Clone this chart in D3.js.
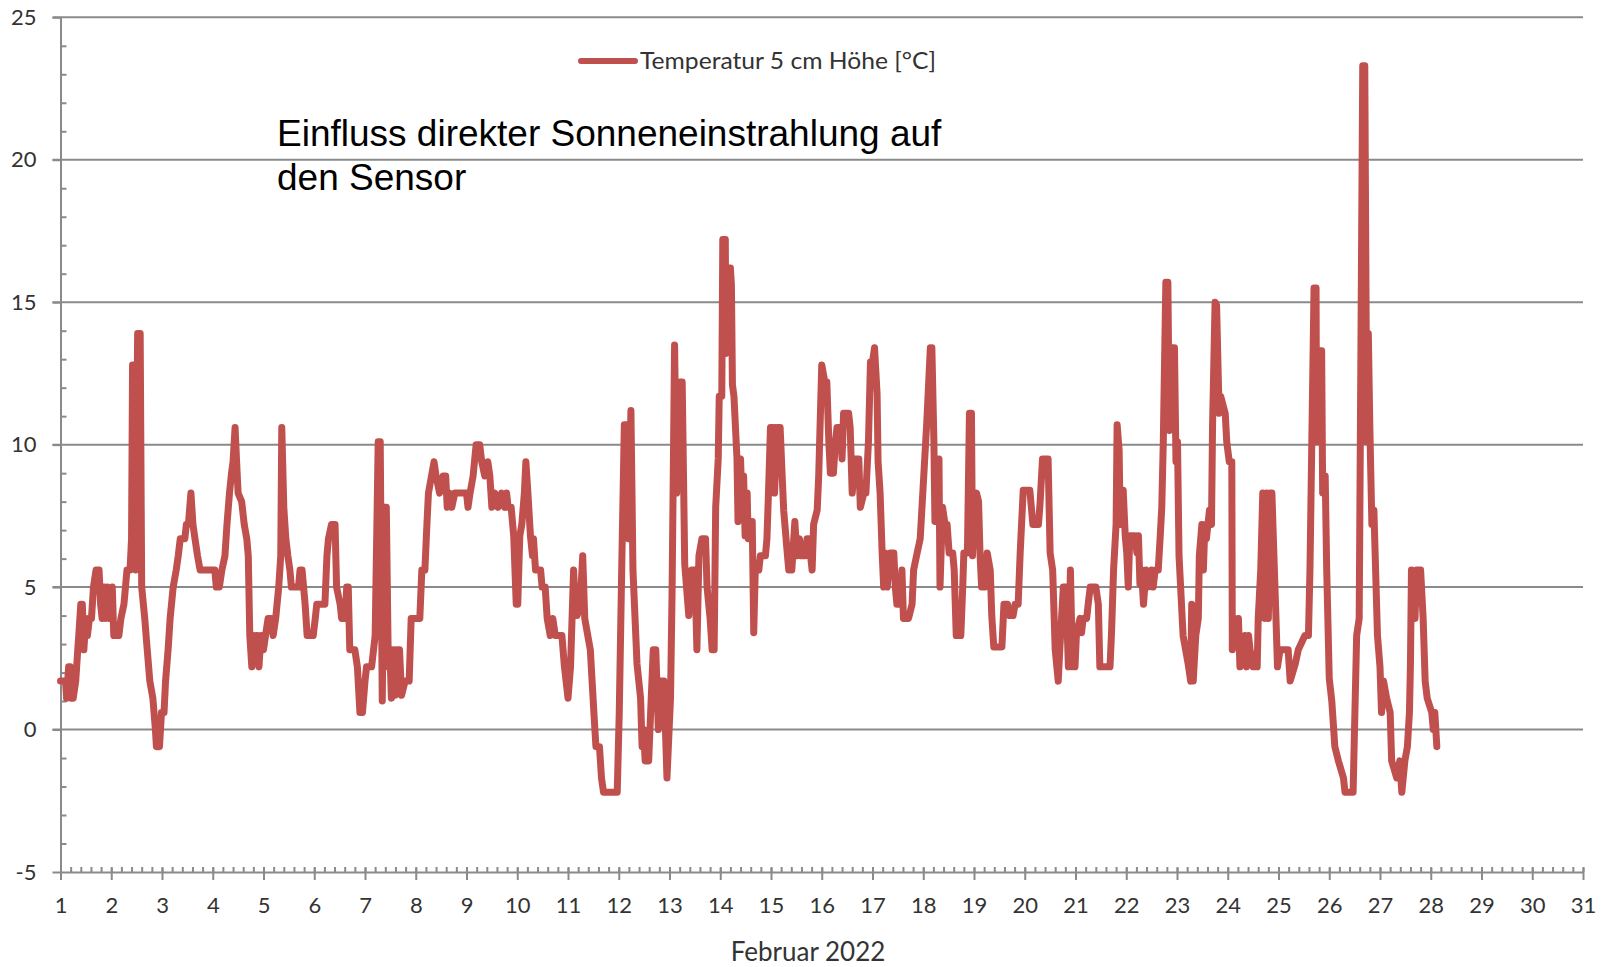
<!DOCTYPE html>
<html>
<head>
<meta charset="utf-8">
<script src="https://cdn.jsdelivr.net/npm/d3@7"></script>
<style>
  html, body { margin: 0; padding: 0; background: #ffffff; }
  svg { display: block; }
</style>
</head>
<body>
<svg id="chart" width="1612" height="967"></svg>
<script>
// ---- data (day of February as decimal, temperature in °C) ----
const readings = [
  [1.00,1.7],[1.10,1.7],[1.12,1.1],[1.16,2.2],[1.19,2.2],[1.21,1.1],[1.25,1.1],[1.30,1.7],[1.34,2.8],[1.36,3.3],
  [1.40,4.4],[1.43,4.4],[1.46,2.8],[1.50,3.9],[1.53,3.3],[1.57,3.9],[1.61,3.9],[1.65,5.0],[1.70,5.6],[1.76,5.6],
  [1.79,4.4],[1.82,3.9],[1.86,5.0],[1.89,3.9],[1.92,5.0],[1.95,3.9],[1.98,3.9],[2.02,5.0],[2.05,3.3],[2.15,3.3],
  [2.19,3.9],[2.25,4.4],[2.31,5.6],[2.37,5.6],[2.40,6.7],[2.42,12.8],[2.46,12.8],[2.48,5.6],[2.52,13.9],[2.57,13.9],
  [2.60,5.0],[2.66,3.9],[2.70,3.0],[2.76,1.7],[2.82,1.1],[2.87,0.0],[2.89,-0.6],[2.95,-0.6],[2.99,0.6],[3.04,0.6],
  [3.07,1.7],[3.12,2.8],[3.16,3.9],[3.22,5.0],[3.28,5.6],[3.32,6.1],[3.36,6.7],[3.45,6.7],[3.48,7.2],[3.52,7.2],
  [3.57,8.3],[3.61,7.2],[3.65,6.7],[3.70,6.1],[3.75,5.6],[4.04,5.6],[4.07,5.0],[4.13,5.0],[4.18,5.6],[4.24,6.1],
  [4.28,7.2],[4.33,8.3],[4.37,9.0],[4.40,9.4],[4.44,10.6],[4.47,9.4],[4.50,8.3],[4.57,8.0],[4.62,7.2],[4.67,6.7],
  [4.70,6.1],[4.73,3.3],[4.77,2.2],[4.80,3.3],[4.84,2.8],[4.87,3.3],[4.91,2.2],[4.95,3.3],[5.00,2.8],[5.04,3.3],
  [5.09,3.9],[5.15,3.9],[5.19,3.3],[5.24,3.9],[5.30,5.0],[5.34,6.1],[5.36,10.6],[5.40,7.8],[5.44,6.7],[5.48,6.1],
  [5.52,5.6],[5.55,5.0],[5.69,5.0],[5.72,5.6],[5.76,5.6],[5.79,5.0],[5.82,4.4],[5.86,3.3],[5.98,3.3],[6.02,3.9],
  [6.05,4.4],[6.21,4.4],[6.25,6.1],[6.28,6.7],[6.34,7.2],[6.41,7.2],[6.44,5.0],[6.51,4.4],[6.54,3.9],[6.61,3.9],
  [6.64,5.0],[6.67,5.0],[6.70,2.8],[6.80,2.8],[6.85,2.2],[6.90,0.6],[6.95,0.6],[7.00,1.7],[7.03,2.2],[7.13,2.2],
  [7.20,3.3],[7.26,10.1],[7.30,10.1],[7.34,1.0],[7.38,7.8],[7.42,7.8],[7.46,2.2],[7.49,2.8],[7.52,1.1],[7.56,2.8],
  [7.59,1.2],[7.63,2.8],[7.68,2.8],[7.72,1.2],[7.79,1.7],[7.87,1.7],[7.91,3.9],[8.08,3.9],[8.12,5.6],[8.18,5.6],
  [8.22,7.2],[8.25,8.3],[8.31,8.9],[8.36,9.4],[8.40,8.9],[8.47,8.3],[8.54,8.9],[8.59,8.9],[8.62,7.8],[8.67,8.3],
  [8.71,7.8],[8.77,8.3],[9.00,8.3],[9.03,7.8],[9.07,8.3],[9.13,8.9],[9.19,10.0],[9.26,10.0],[9.30,9.4],[9.36,8.9],
  [9.42,9.4],[9.46,8.9],[9.50,7.8],[9.56,8.3],[9.62,7.8],[9.69,8.3],[9.75,7.8],[9.79,8.3],[9.82,7.8],[9.88,7.8],
  [9.93,6.8],[9.98,4.4],[10.01,4.4],[10.05,6.8],[10.09,7.2],[10.14,8.3],[10.17,9.4],[10.21,8.3],[10.26,6.8],[10.30,6.1],
  [10.32,6.7],[10.36,5.6],[10.46,5.6],[10.49,5.0],[10.55,5.0],[10.59,3.9],[10.65,3.3],[10.70,3.9],[10.75,3.3],[10.88,3.3],
  [10.93,2.2],[11.00,1.1],[11.05,2.2],[11.11,5.6],[11.15,4.0],[11.18,4.0],[11.24,4.4],[11.29,6.1],[11.33,3.9],[11.39,3.3],
  [11.44,2.8],[11.51,0.6],[11.55,-0.6],[11.62,-0.6],[11.66,-1.7],[11.70,-2.2],[11.97,-2.2],[12.01,0.6],[12.06,5.8],[12.11,10.7],
  [12.16,10.7],[12.19,6.7],[12.24,11.2],[12.28,5.6],[12.36,2.3],[12.43,1.1],[12.46,-0.6],[12.49,0.0],[12.52,-1.1],[12.59,-1.1],
  [12.64,1.1],[12.68,2.8],[12.73,2.8],[12.78,0.0],[12.82,1.7],[12.89,1.7],[12.92,0.0],[12.95,-1.7],[13.02,1.1],[13.05,4.7],
  [13.10,13.5],[13.14,8.3],[13.18,10.3],[13.21,12.2],[13.25,12.2],[13.30,5.8],[13.38,4.0],[13.44,5.6],[13.50,5.6],[13.54,2.8],
  [13.58,6.1],[13.64,6.7],[13.71,6.7],[13.74,5.0],[13.80,3.9],[13.84,2.8],[13.88,2.8],[13.91,7.8],[13.96,9.5],[13.98,11.7],
  [14.03,11.7],[14.05,17.2],[14.10,17.2],[14.11,13.2],[14.15,16.2],[14.20,16.2],[14.22,15.6],[14.24,12.1],[14.27,11.7],[14.30,10.6],
  [14.33,9.5],[14.35,7.3],[14.40,9.5],[14.43,7.8],[14.46,8.9],[14.49,6.8],[14.53,8.3],[14.55,6.7],[14.59,7.3],[14.63,7.3],
  [14.66,3.4],[14.69,5.6],[14.76,5.6],[14.79,6.1],[14.89,6.1],[14.92,6.7],[14.95,8.3],[14.99,10.6],[15.05,10.6],[15.07,8.3],
  [15.12,10.6],[15.18,10.6],[15.22,8.9],[15.25,7.7],[15.32,6.2],[15.35,5.6],[15.41,5.6],[15.47,7.3],[15.51,6.1],[15.56,6.7],
  [15.60,6.1],[15.68,6.1],[15.71,6.7],[15.74,6.7],[15.78,6.1],[15.81,5.6],[15.84,7.2],[15.91,7.7],[15.94,8.9],[16.00,12.8],
  [16.06,12.2],[16.10,12.2],[16.14,10.1],[16.17,9.0],[16.23,9.0],[16.27,10.1],[16.30,10.6],[16.37,10.6],[16.40,9.5],[16.43,11.1],
  [16.53,11.1],[16.56,10.6],[16.60,8.3],[16.66,9.5],[16.73,9.5],[16.76,7.8],[16.83,8.3],[16.87,8.3],[16.92,10.1],[16.96,12.9],
  [17.00,12.9],[17.04,13.4],[17.09,11.8],[17.11,9.4],[17.15,8.3],[17.19,6.2],[17.22,5.0],[17.25,6.2],[17.29,5.0],[17.35,6.2],
  [17.42,6.2],[17.45,5.0],[17.48,4.4],[17.55,4.4],[17.58,5.6],[17.61,3.9],[17.71,3.9],[17.78,4.4],[17.81,5.6],[17.88,6.2],
  [17.94,6.7],[18.01,8.9],[18.07,10.8],[18.14,13.4],[18.17,13.4],[18.21,10.1],[18.23,7.3],[18.29,7.3],[18.31,9.5],[18.33,5.0],
  [18.38,7.8],[18.43,7.2],[18.47,7.2],[18.51,6.2],[18.58,6.2],[18.61,5.6],[18.65,3.3],[18.74,3.3],[18.78,5.1],[18.80,6.2],
  [18.87,6.2],[18.91,11.1],[18.95,11.1],[18.97,6.1],[19.02,8.0],[19.05,8.3],[19.09,8.0],[19.12,6.1],[19.15,5.0],[19.22,5.0],
  [19.26,6.2],[19.32,5.6],[19.35,4.0],[19.39,2.9],[19.55,2.9],[19.59,4.4],[19.66,4.4],[19.70,4.0],[19.77,4.0],[19.81,4.4],
  [19.87,4.4],[19.91,6.2],[19.97,8.4],[20.10,8.4],[20.16,7.2],[20.27,7.2],[20.30,7.9],[20.35,9.5],[20.46,9.5],[20.50,6.2],
  [20.55,5.6],[20.60,2.8],[20.66,1.7],[20.69,2.8],[20.76,5.0],[20.81,5.0],[20.86,2.2],[20.90,5.6],[20.94,2.2],[20.99,2.2],
  [21.02,3.4],[21.09,3.9],[21.12,3.4],[21.15,3.9],[21.22,3.9],[21.25,4.4],[21.29,5.0],[21.40,5.0],[21.45,4.4],[21.48,2.2],
  [21.68,2.2],[21.71,3.4],[21.75,5.6],[21.80,7.2],[21.82,10.7],[21.86,9.8],[21.88,7.2],[21.91,7.2],[21.94,8.4],[21.98,6.8],
  [22.01,6.2],[22.04,5.0],[22.07,6.8],[22.17,6.8],[22.21,6.2],[22.24,6.8],[22.27,5.1],[22.30,5.6],[22.34,4.4],[22.39,5.6],
  [22.43,5.0],[22.50,5.6],[22.53,5.0],[22.57,5.6],[22.63,5.6],[22.67,6.8],[22.70,7.8],[22.73,10.1],[22.78,15.7],[22.82,15.7],
  [22.85,10.5],[22.88,13.4],[22.95,13.4],[22.98,9.4],[23.01,10.1],[23.04,6.1],[23.12,3.3],[23.22,2.3],[23.27,1.7],[23.29,4.4],
  [23.32,1.7],[23.37,3.3],[23.42,3.9],[23.44,6.1],[23.49,7.2],[23.52,5.6],[23.55,7.2],[23.58,6.7],[23.64,7.7],[23.68,7.2],
  [23.70,10.6],[23.75,15.0],[23.78,14.9],[23.83,11.1],[23.86,11.7],[23.95,11.1],[23.98,10.1],[24.03,9.4],[24.08,9.4],[24.09,2.8],
  [24.14,3.9],[24.18,3.3],[24.21,3.9],[24.24,2.2],[24.34,3.3],[24.37,2.2],[24.41,3.3],[24.44,2.8],[24.50,2.2],[24.58,2.2],
  [24.60,3.9],[24.65,5.6],[24.69,8.3],[24.73,3.9],[24.77,8.3],[24.80,3.9],[24.84,8.3],[24.87,8.3],[24.91,6.1],[24.95,3.9],
  [24.98,2.2],[25.03,2.8],[25.19,2.8],[25.23,1.7],[25.33,2.3],[25.39,2.8],[25.52,3.3],[25.59,3.3],[25.62,5.6],[25.70,15.5],
  [25.74,15.5],[25.75,10.1],[25.80,13.3],[25.85,13.3],[25.87,8.3],[25.92,8.9],[25.95,5.6],[26.00,1.8],[26.05,1.0],[26.11,-0.6],
  [26.18,-1.1],[26.28,-1.7],[26.31,-2.2],[26.47,-2.2],[26.54,3.3],[26.59,3.9],[26.66,23.3],[26.70,23.3],[26.74,10.1],[26.77,13.9],
  [26.80,10.6],[26.84,7.2],[26.88,7.7],[26.95,3.3],[27.00,2.2],[27.03,0.6],[27.07,1.7],[27.13,1.1],[27.20,0.6],[27.23,-1.1],
  [27.33,-1.7],[27.39,-1.1],[27.43,-2.2],[27.49,-1.1],[27.54,-0.6],[27.58,0.6],[27.60,2.3],[27.62,5.6],[27.69,3.9],[27.72,5.6],
  [27.80,5.6],[27.85,3.9],[27.89,1.7],[27.93,1.1],[28.02,0.6],[28.05,0.0],[28.08,0.6],[28.12,-0.6]
];
const yTicks = [-5, 0, 5, 10, 15, 20, 25];
const yMinorTicks = d3.range(-5, 26, 1).filter(v => v % 5 !== 0);
const xTicks = d3.range(1, 32, 1);
const xMinorTicks = d3.range(1, 31.001, 0.2);
const seriesName = "Temperatur 5 cm Höhe [°C]";
const xTitle = "Februar 2022";
const noteLines = ["Einfluss direkter Sonneneinstrahlung auf", "den Sensor"];

// ---- layout ----
const svg = d3.select("#chart");
const plotLeft = 60.5, plotRight = 1583, plotTop = 17.3, plotBottom = 872;
const x = d3.scaleLinear().domain([1, 31]).range([plotLeft, plotRight]);
const y = d3.scaleLinear().domain([-5, 25]).range([plotBottom, plotTop]);
const gridColor = "#8a8a8a";
const textColor = "#333333";
const labelFont = "Lato, 'Open Sans', sans-serif";
const plainFormat = d => String(d);

// gridlines
svg.append("g").selectAll("line").data(yTicks.filter(v => v !== -5)).join("line")
  .attr("x1", plotLeft - 8).attr("x2", plotRight)
  .attr("y1", d => y(d)).attr("y2", d => y(d))
  .attr("stroke", gridColor).attr("stroke-width", 2);

// y axis (major ticks outside with labels)
const yAxis = svg.append("g").attr("transform", `translate(${plotLeft},0)`)
  .call(d3.axisLeft(y).tickValues(yTicks).tickSize(8).tickSizeOuter(0).tickPadding(16).tickFormat(plainFormat));
// y minor ticks inside
const yMinor = svg.append("g").attr("transform", `translate(${plotLeft},0)`)
  .call(d3.axisRight(y).tickValues(yMinorTicks).tickSize(6).tickFormat(""));
yMinor.select(".domain").remove();

// x axis
const xAxis = svg.append("g").attr("transform", `translate(0,${plotBottom})`)
  .call(d3.axisBottom(x).tickValues(xTicks).tickSize(8).tickSizeOuter(0).tickPadding(17).tickFormat(plainFormat));
const xMinor = svg.append("g").attr("transform", `translate(0,${plotBottom})`)
  .call(d3.axisTop(x).tickValues(xMinorTicks).tickSize(5).tickFormat(""));
xMinor.select(".domain").remove();

[yAxis, yMinor, xAxis, xMinor].forEach(g => {
  g.selectAll("path.domain").attr("stroke", gridColor).attr("stroke-width", 2);
  g.selectAll(".tick line").attr("stroke", gridColor).attr("stroke-width", 2);
  g.selectAll(".tick text").attr("fill", textColor).style("font-family", labelFont).style("font-size", "22px");
});
xAxis.selectAll(".tick line").attr("y1", -4);

// series line
const line = d3.line().x(d => x(d[0])).y(d => y(d[1]));
svg.append("path").datum(readings)
  .attr("d", line)
  .attr("fill", "none")
  .attr("stroke", "#C0504D")
  .attr("stroke-width", 7)
  .attr("stroke-linejoin", "round")
  .attr("stroke-linecap", "round");

// legend
const lg = svg.append("g");
lg.append("line").attr("x1", 581).attr("x2", 635).attr("y1", 61).attr("y2", 61)
  .attr("stroke", "#C0504D").attr("stroke-width", 6).attr("stroke-linecap", "round");
lg.append("text").attr("x", 640).attr("y", 69)
  .attr("fill", textColor).style("font-family", labelFont).style("font-size", "24px")
  .attr("textLength", 296).attr("lengthAdjust", "spacingAndGlyphs")
  .text(seriesName);

// annotation
svg.append("g").selectAll("text").data(noteLines).join("text")
  .attr("x", 277).attr("y", (d, i) => 146 + i * 44)
  .attr("fill", "#000").style("font-family", "'Liberation Sans', Arial, sans-serif").style("font-size", "37px")
  .text(d => d);

// x axis title
svg.append("text").attr("x", 808).attr("y", 961).attr("text-anchor", "middle")
  .attr("fill", textColor).style("font-family", labelFont).style("font-size", "26px")
  .text(xTitle);
</script>
</body>
</html>
